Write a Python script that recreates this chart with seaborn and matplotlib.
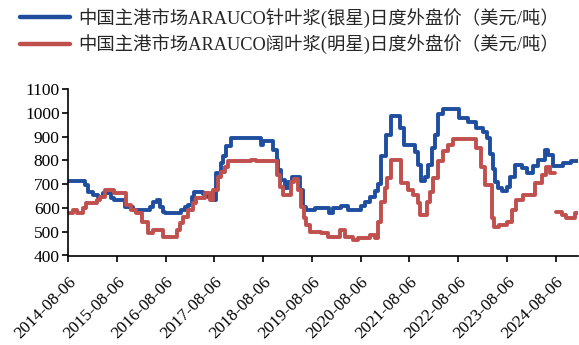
import numpy as np
import pandas as pd
import matplotlib
matplotlib.use("Agg")
import matplotlib.pyplot as plt
from matplotlib.lines import Line2D
import seaborn as sns

# ---------------- data (step change points) ----------------
soft_dates = [
    "2014-08-06", "2014-12-08", "2015-01-05", "2015-02-10", "2015-03-18", "2015-04-22",
    "2015-06-25", "2015-07-20", "2015-10-05", "2015-12-05", "2016-04-08", "2016-05-05",
    "2016-05-30", "2016-06-25", "2016-07-15", "2016-07-30", "2016-12-01", "2016-12-28",
    "2017-01-22", "2017-02-18", "2017-03-10", "2017-05-10", "2017-06-20", "2017-07-15",
    "2017-08-22", "2017-09-28", "2017-10-08", "2017-11-03", "2017-12-08", "2018-07-22",
    "2018-08-05", "2018-10-20", "2018-11-15", "2018-11-25", "2018-12-20", "2019-01-15",
    "2019-02-10", "2019-03-08", "2019-05-08", "2019-06-02", "2019-06-25", "2019-09-01",
    "2019-12-10", "2020-01-15", "2020-03-10", "2020-05-01", "2020-08-10", "2020-09-05",
    "2020-10-12", "2020-11-20", "2020-12-15", "2021-01-08", "2021-02-15", "2021-03-25",
    "2021-05-25", "2021-06-30", "2021-09-15", "2021-10-12", "2021-10-30", "2021-11-28",
    "2021-12-25", "2022-01-20", "2022-02-15", "2022-03-05", "2022-04-15", "2022-08-15",
    "2022-10-20", "2022-12-20", "2023-02-10", "2023-03-08", "2023-04-01", "2023-04-22",
    "2023-05-08", "2023-06-01", "2023-06-28", "2023-08-05", "2023-08-28", "2023-10-05",
    "2023-11-25", "2024-01-01", "2024-02-18", "2024-03-28", "2024-05-15", "2024-06-10",
    "2024-07-15", "2024-10-01", "2024-12-01", "2025-01-20",
]
soft_values = [
    712, 697, 669, 655, 648, 662,
    641, 634, 605, 591, 605, 627,
    634, 605, 584, 577, 590, 605,
    612, 648, 669, 660, 648, 634,
    746, 789, 817, 859, 892, 866,
    880, 845, 803, 760, 718, 683,
    711, 732, 676, 605, 591, 600,
    580, 600, 610, 590, 610, 625,
    648, 670, 700, 820, 905, 985,
    935, 865, 835, 780, 715, 730,
    780, 850, 905, 995, 1015, 980,
    960, 935, 920, 895, 825, 765,
    710, 685, 670, 690, 732, 781,
    768, 748, 775, 803, 845, 824,
    775, 790, 796, 796,
]

hard_dates = [
    "2014-08-06", "2014-09-10", "2014-10-15", "2014-11-25", "2014-12-20", "2015-03-10",
    "2015-03-30", "2015-05-08", "2015-07-20", "2015-10-15", "2015-11-20", "2015-12-28",
    "2016-02-08", "2016-03-28", "2016-05-05", "2016-07-15", "2016-10-28", "2016-11-20",
    "2016-12-12", "2017-01-22", "2017-02-28", "2017-03-25", "2017-05-25", "2017-07-01",
    "2017-07-28", "2017-09-01", "2017-09-28", "2017-10-22", "2017-11-18", "2018-05-10",
    "2018-06-15", "2018-11-15", "2018-12-10", "2019-01-05", "2019-03-05", "2019-03-25",
    "2019-04-22", "2019-05-18", "2019-06-12", "2019-06-25", "2019-07-20", "2019-10-15",
    "2019-12-05", "2020-03-01", "2020-04-08", "2020-06-10", "2020-07-20", "2020-10-12",
    "2020-11-20", "2020-12-15", "2021-01-08", "2021-02-05", "2021-02-18", "2021-03-25",
    "2021-06-05", "2021-07-25", "2021-09-01", "2021-10-12", "2021-10-25", "2021-12-15",
    "2022-01-08", "2022-01-30", "2022-03-10", "2022-04-15", "2022-05-20", "2022-06-28",
    "2022-12-20", "2023-01-25", "2023-02-20", "2023-04-20", "2023-05-05", "2023-06-10",
    "2023-08-05", "2023-09-10", "2023-10-15", "2023-12-05", "2024-03-05", "2024-04-22",
    "2024-05-28", "2024-06-25", "2024-07-30",
    "2024-08-10", "2024-09-20", "2024-10-25", "2024-12-31", "2025-01-20",
]
hard_values = [
    577, 590, 580, 600, 620, 634,
    648, 676, 662, 612, 591, 577,
    542, 493, 507, 479, 507, 535,
    563, 591, 620, 641, 662, 634,
    676, 732, 753, 774, 796, 803,
    796, 740, 690, 655, 710, 720,
    676, 605, 556, 528, 500, 493,
    479, 507, 479, 465, 472, 486,
    472, 542, 627, 685, 725, 803,
    704, 676, 655, 620, 570, 627,
    669, 725, 796, 838, 866, 890,
    852, 774, 697, 556, 521, 530,
    542, 591, 634, 655, 704, 739,
    774, 746, 746,
    584, 570, 556, 577, 577,
]
# the hardwood series has a short break after 2024-07-30
hard_segment = [0] * 81 + [1] * 5

soft_label = "中国主港市场ARAUCO针叶浆(银星)日度外盘价（美元/吨）"
hard_label = "中国主港市场ARAUCO阔叶浆(明星)日度外盘价（美元/吨）"
tick_dates = ["2014-08-06", "2015-08-06", "2016-08-06", "2017-08-06", "2018-08-06",
              "2019-08-06", "2020-08-06", "2021-08-06", "2022-08-06", "2023-08-06",
              "2024-08-06"]

# ---------------- frames ----------------
soft = pd.DataFrame({"date": pd.to_datetime(soft_dates), "value": soft_values, "seg": 0})
hard = pd.DataFrame({"date": pd.to_datetime(hard_dates), "value": hard_values, "seg": hard_segment})

BLUE = "#1F4E9F"
RED = "#C0504D"

sns.set_style("white")
plt.rcParams["font.family"] = ["Liberation Serif", "Noto Sans CJK SC", "DejaVu Sans"]

fig = plt.figure(figsize=(5.79, 3.45), dpi=100)
ax = fig.add_axes([68 / 579, 1 - 255.5 / 345, (578 - 68) / 579, (255.5 - 89) / 345])

sns.lineplot(data=soft, x="date", y="value", units="seg", estimator=None,
             drawstyle="steps-post", color=BLUE, linewidth=2.8, ax=ax, legend=False)
sns.lineplot(data=hard, x="date", y="value", units="seg", estimator=None,
             drawstyle="steps-post", color=RED, linewidth=2.8, ax=ax, legend=False)

ax.set_xlim(pd.Timestamp(soft_dates[0]), pd.Timestamp(soft_dates[-1]))
ax.set_ylim(400, 1100)
ax.set_yticks(np.arange(400, 1101, 100))
ax.set_yticklabels([str(v) for v in range(400, 1101, 100)], fontsize=12.5)
ticks = pd.to_datetime(tick_dates)
ax.set_xticks(ticks)
ax.set_xticklabels(tick_dates, fontsize=12.3, rotation=45, ha="right",
                   va="top", rotation_mode="anchor")
ax.set_xlabel("")
ax.set_ylabel("")

for s in ["top", "right"]:
    ax.spines[s].set_visible(False)
for s in ["left", "bottom"]:
    ax.spines[s].set_color("black")
    ax.spines[s].set_linewidth(1.2)
ax.tick_params(axis="both", direction="out", length=4, width=1.2, color="black",
               labelcolor="black", left=True, bottom=True, pad=2)
ax.tick_params(axis="x", pad=9.5)

handles = [Line2D([], [], color=BLUE, linewidth=3.2),
           Line2D([], [], color=RED, linewidth=3.2)]
fig.legend(handles, [soft_label, hard_label], loc="upper left",
           bbox_to_anchor=(20 / 579, 1 - 8 / 345), frameon=False,
           prop={"family": ["Liberation Serif", "Noto Sans CJK SC"], "size": 13.2},
           handlelength=2.7, handletextpad=0.45, labelspacing=0.35,
           borderpad=0, borderaxespad=0)

fig.savefig("out.png", dpi=100)
